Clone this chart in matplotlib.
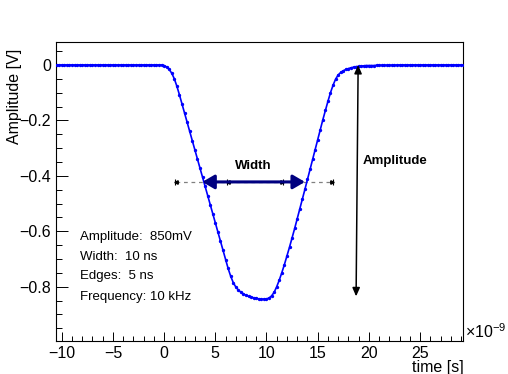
import numpy as np
import matplotlib
matplotlib.use("Agg")
import matplotlib.pyplot as plt
from matplotlib.ticker import MultipleLocator, FuncFormatter
from matplotlib.patches import FancyArrowPatch

plt.rcParams['font.family'] = ['Liberation Sans', 'DejaVu Sans']
plt.rcParams['mathtext.fontset'] = 'custom'
plt.rcParams['mathtext.rm'] = 'Liberation Sans'

#%% Data (time in ns, amplitude in V), sampled every 0.25 ns
t_ns = np.arange(-10.5, 29.26, 0.25)

baseline_before = [0.000] * 42          # -10.5 ... -0.25 ns
pulse = [
    -0.002, -0.007, -0.016, -0.030, -0.050, -0.077, -0.108, -0.141,   # 0.0 - 1.75
    -0.174, -0.207, -0.240, -0.273, -0.306, -0.339, -0.372, -0.405,   # 2.0 - 3.75
    -0.438, -0.471, -0.504, -0.537, -0.570, -0.603, -0.636, -0.669,   # 4.0 - 5.75
    -0.702, -0.734, -0.762, -0.785, -0.801, -0.812, -0.820, -0.826,   # 6.0 - 7.75
    -0.831, -0.835, -0.838, -0.840, -0.842, -0.844, -0.845, -0.845,   # 8.0 - 9.75
    -0.844, -0.841, -0.833, -0.820, -0.800, -0.776, -0.749, -0.720,   # 10.0 - 11.75
    -0.689, -0.657, -0.624, -0.590, -0.555, -0.520, -0.485, -0.449,   # 12.0 - 13.75
    -0.413, -0.377, -0.341, -0.305, -0.269, -0.233, -0.198, -0.164,   # 14.0 - 15.75
    -0.131, -0.100, -0.073, -0.051, -0.036, -0.027, -0.021, -0.016,   # 16.0 - 17.75
    -0.013, -0.010, -0.008, -0.006, -0.005, -0.004, -0.003,           # 18.0 - 19.5
]
baseline_after = [-0.002, -0.002, -0.002, -0.002, -0.001, -0.001, -0.001, -0.001,
                  -0.001, -0.001, -0.001, -0.001, 0.000, 0.000, 0.000, 0.000,
                  0.000, 0.000, 0.000, 0.000, 0.000, 0.000, 0.000, 0.000,
                  0.000, 0.000, 0.000, 0.000, 0.000, 0.000, 0.000, 0.000,
                  0.000, 0.000, 0.000, 0.000, 0.000, 0.000, 0.000]   # 19.75 - 29.25
amplitude_v = np.array(baseline_before + pulse + baseline_after)

info_lines = ["Amplitude:  850mV", "Width:  10 ns", "Edges:  5 ns", "Frequency: 10 kHz"]
info_y = [-0.622, -0.692, -0.762, -0.839]

width_start, width_end, width_level = 3.73, 13.76, -0.422
guide_points = [1.16, 6.24, 11.5, 16.4]
amp_top, amp_bottom = 0.0, -0.835

#%% Figure
fig = plt.figure(figsize=(5.08, 3.74), dpi=100)
ax = fig.add_axes([0.1102, 0.089, 0.8018, 0.7995])

ax.plot(t_ns, amplitude_v, color='#0000ff', lw=1.2, marker='o', ms=1.4,
        mec='#0000ff', mfc='#0000ff', zorder=3)

# dashed guide line for the width
ax.plot([guide_points[0], guide_points[-1]], [width_level, width_level],
        color='#808080', lw=0.9, ls=(0, (3, 3)), zorder=2)
for gx, side in zip(guide_points, ['<', '<', '>', '>']):
    off = -0.12 if side == '<' else 0.12
    ax.plot([gx + off], [width_level], marker='|', color='black', ms=4, mew=0.8, zorder=4)
    ax.plot([gx], [width_level], marker=side, color='black', ms=2.5, zorder=4)

# width arrow
ax.add_patch(FancyArrowPatch((width_start, width_level), (width_end, width_level),
                             arrowstyle='<|-|>,head_length=0.6,head_width=0.35',
                             mutation_scale=12, color='#000080', lw=2.2,
                             shrinkA=0, shrinkB=0, zorder=5))
ax.text(8.73, -0.365, "Width", fontsize=9.5, fontweight='bold', ha='center', va='center')

# amplitude arrow
ax.add_patch(FancyArrowPatch((18.95, amp_top), (18.75, amp_bottom),
                             arrowstyle='<|-|>,head_length=0.5,head_width=0.22',
                             mutation_scale=10, color='black', lw=1.1,
                             shrinkA=0, shrinkB=0, zorder=5))
ax.text(19.35, -0.347, "Amplitude", fontsize=9.5, fontweight='bold', ha='left', va='center')

for line, y in zip(info_lines, info_y):
    ax.text(-8.21, y, line, fontsize=9.5, ha='left', va='center')

#%% Axes styling (ROOT look)
ax.set_xlim(-10.56, 29.22)
ax.set_ylim(-0.995, 0.084)

ax.xaxis.set_major_locator(MultipleLocator(5))
ax.xaxis.set_minor_locator(MultipleLocator(1))
ax.yaxis.set_major_locator(MultipleLocator(0.2))
ax.yaxis.set_minor_locator(MultipleLocator(0.05))

def fmt_x(v, pos):
    return f"{v:.0f}".replace('-', '\u2212')

def fmt_y(v, pos):
    if abs(v) < 1e-9:
        return "0"
    return f"{v:.1f}".replace('-', '\u2212')

ax.xaxis.set_major_formatter(FuncFormatter(fmt_x))
ax.yaxis.set_major_formatter(FuncFormatter(fmt_y))

ax.tick_params(axis='both', which='both', direction='in', top=False, right=False,
               labelsize=11.5, width=0.7, colors='black')
ax.tick_params(axis='x', which='major', length=6.5, pad=4)
ax.tick_params(axis='x', which='minor', length=3.5)
ax.tick_params(axis='y', which='major', length=8.5, pad=3.5)
ax.tick_params(axis='y', which='minor', length=4.3)

for sp in ax.spines.values():
    sp.set_linewidth(0.8)
    sp.set_color('black')

ax.set_xlabel("time [s]", fontsize=11.5, loc='right')
ax.xaxis.set_label_coords(1.0, -0.066)
ax.set_ylabel("Amplitude [V]", fontsize=11.5, loc='top')
ax.yaxis.set_label_coords(-0.083, 0.975)

ax.text(1.004, 0.03, r"$\mathregular{\times10^{-9}}$", transform=ax.transAxes,
        fontsize=11.5, ha='left', va='center')

fig.savefig("out.png", dpi=100)
